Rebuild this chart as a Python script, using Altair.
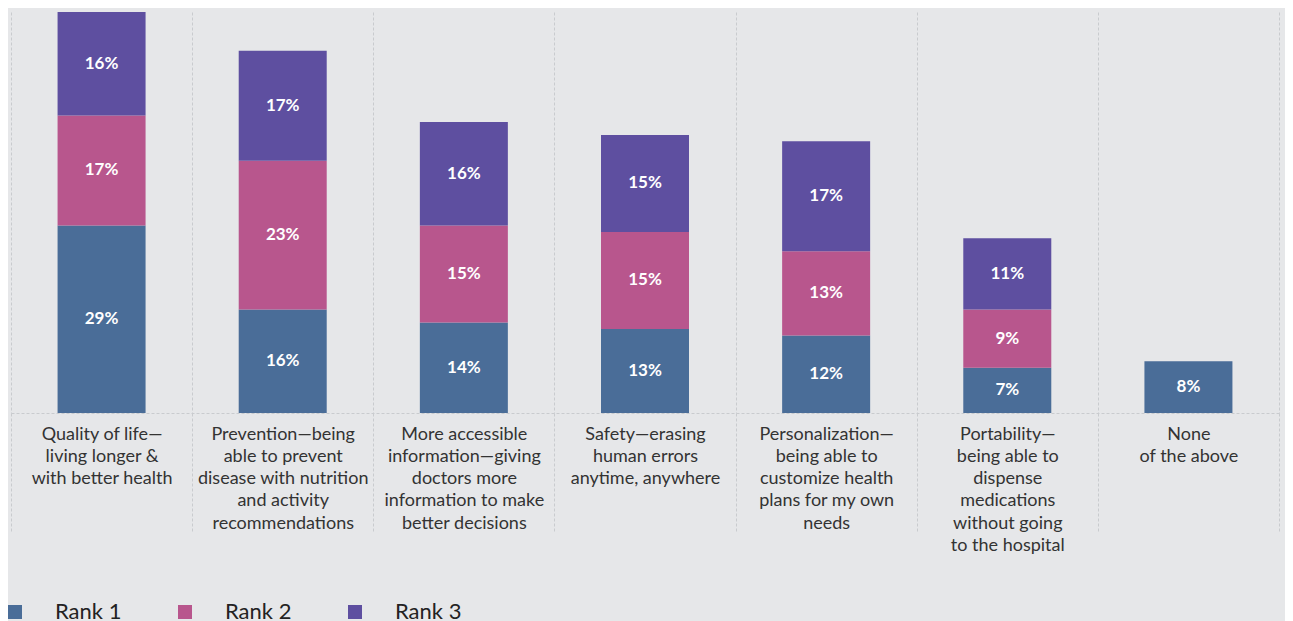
import altair as alt
import pandas as pd

categories = [
    "Quality of life—\nliving longer &\nwith better health",
    "Prevention—being\nable to prevent\ndisease with nutrition\nand activity\nrecommendations",
    "More accessible\ninformation—giving\ndoctors more\ninformation to make\nbetter decisions",
    "Safety—erasing\nhuman errors\nanytime, anywhere",
    "Personalization—\nbeing able to\ncustomize health\nplans for my own\nneeds",
    "Portability—\nbeing able to\ndispense\nmedications\nwithout going\nto the hospital",
    "None\nof the above",
]
rank1 = [29, 16, 14, 13, 12, 7, 8]
rank2 = [17, 23, 15, 15, 13, 9, 0]
rank3 = [16, 17, 16, 15, 17, 11, 0]
ranks = ["Rank 1", "Rank 2", "Rank 3"]
colors = ["#4a6d98", "#b8568d", "#5e4fa0"]

rows = []
for i, c in enumerate(categories):
    for r, vals in zip(ranks, [rank1, rank2, rank3]):
        if vals[i] > 0:
            rows.append({"cat": c, "idx": i, "rank": r, "value": vals[i]})
df = pd.DataFrame(rows)

FONT = "Lato"

base = alt.Chart(df).transform_stack(
    stack="value", groupby=["cat"], as_=["y0", "y1"], sort=[alt.SortField("rank", order="ascending")]
).transform_calculate(
    mid="(datum.y0 + datum.y1) / 2", lbl="datum.value + '%'"
)

xenc = alt.X(
    "cat:N",
    sort=categories,
    scale=alt.Scale(paddingInner=0, paddingOuter=0),
    axis=alt.Axis(
        title=None,
        labelAngle=0,
        labelExpr="split(datum.label, '\\n')",
        labelFont=FONT,
        labelFontSize=18,
        labelColor="#333333",
        labelLineHeight=22.3,
        labelBaseline="top",
        labelPadding=-107,
        labelLimit=300,
        tickBand="extent",
        ticks=True,
        tickSize=119,
        tickDash=[3, 2],
        tickColor="#c9cbce",
        grid=True,
        gridDash=[3, 2],
        gridColor="#c9cbce",
        domain=True,
        domainDash=[3, 2],
        domainColor="#c9cbce",
    ),
)

bars = base.mark_bar(width=88).encode(
    x=xenc,
    y=alt.Y("y0:Q", scale=alt.Scale(domain=[0, 62], nice=False, zero=True), axis=None),
    y2="y1:Q",
    color=alt.Color(
        "rank:N",
        scale=alt.Scale(domain=ranks, range=colors),
        legend=alt.Legend(
            title=None,
            orient="none",
            legendX=-7,
            legendY=589,
            direction="horizontal",
            symbolType="square",
            symbolSize=196,
            symbolStrokeWidth=0,
            labelFont=FONT,
            labelFontSize=22,
            labelColor="#222222",
            labelOffset=29,
            columnPadding=52,
            padding=0,
        ),
    ),
)

texts = base.mark_text(font=FONT, fontSize=17, fontWeight="bold", color="white").encode(
    x=alt.X("cat:N", sort=categories),
    y=alt.Y("mid:Q"),
    text="lbl:N",
)

chart = alt.layer(bars, texts).properties(
    width=1268,
    height=401,
    background="#e6e7e9",
    padding={"left": 3, "top": 4, "right": 6, "bottom": 208},
    autosize=alt.AutoSizeParams(type="none"),
).configure_view(stroke=None)

chart.save("out.html", embed_options={"renderer": "svg", "actions": False})
